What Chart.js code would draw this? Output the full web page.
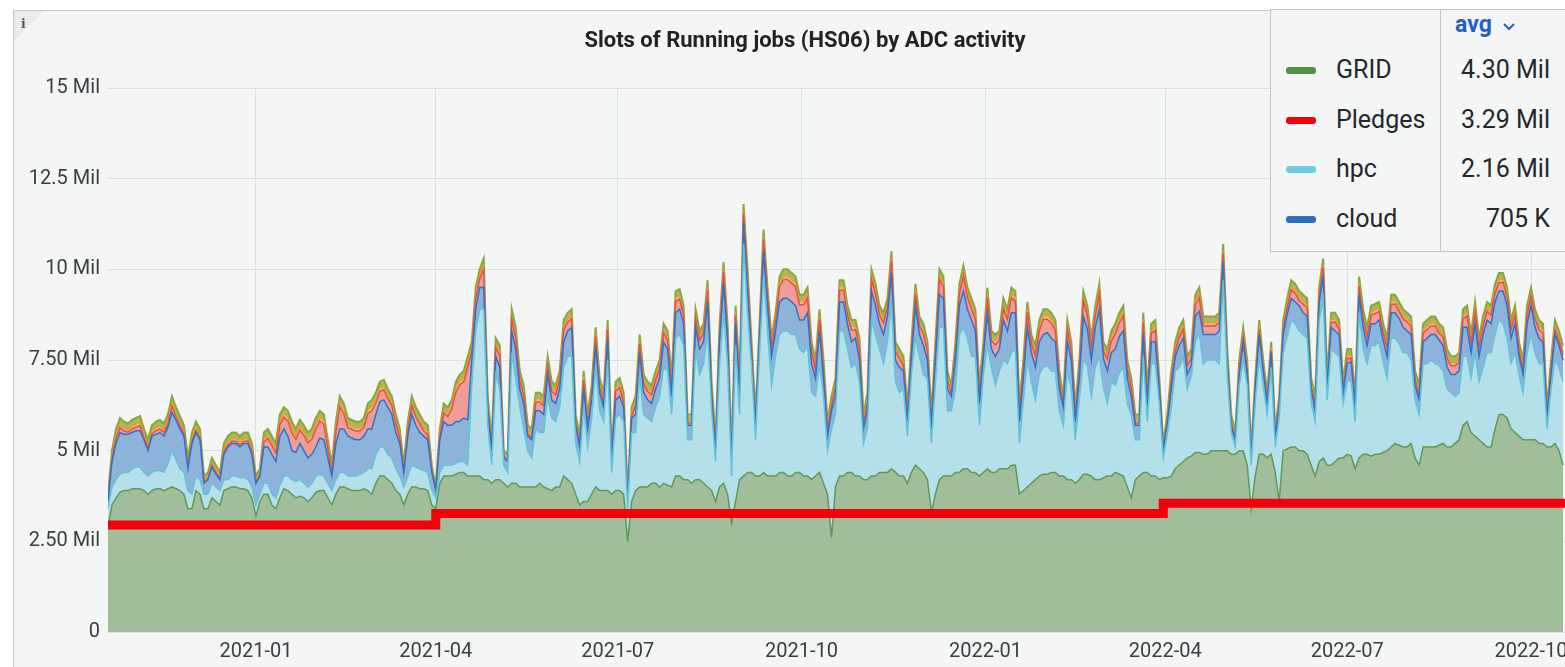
<!DOCTYPE html>
<html>
<head>
<meta charset="utf-8">
<script src="https://cdn.jsdelivr.net/npm/chart.js@4.4.0/dist/chart.umd.min.js"></script>
<style>
body { margin: 0; width: 1565px; height: 667px; overflow: hidden; background: #fff; font-family: Roboto, "Noto Sans", sans-serif; }
#panel { position: absolute; left: 13px; top: 10px; width: 1620px; height: 700px; background: #f4f5f5; border: 1px solid #c9c9c9; }
#corner { position: absolute; left: 14px; top: 11px; width: 0; height: 0; border-top: 30px solid #eaebeb; border-right: 30px solid transparent; }
#info { position: absolute; left: 21px; top: 17px; font-family: "DejaVu Serif", serif; font-weight: bold; font-size: 12px; color: #555; }
#chart { position: absolute; left: 0; top: 0; }
#title { position: absolute; left: 0; top: 27px; width: 1610px; text-align: center; font-weight: bold; font-size: 22px; color: #202226; }
#legend { position: absolute; left: 1270px; top: 9px; width: 320px; height: 241px; background: #f4f5f5; border: 1px solid #c4c4c4; }
#legend .div { position: absolute; left: 169px; top: 0; width: 1px; height: 241px; background: #c4c4c4; }
#legend .head { position: absolute; left: 184px; top: 1px; font-weight: bold; font-size: 23px; color: #1f60c4; }
#legend .row { position: absolute; left: 0; height: 30px; width: 320px; font-size: 25px; color: #24272b; }
#legend .sw { position: absolute; left: 15px; top: 12px; width: 30px; height: 7px; border-radius: 3px; }
#legend .nm { position: absolute; left: 65px; top: 0; }
#legend .val { position: absolute; left: 170px; width: 109px; top: 0; text-align: right; }
</style>
</head>
<body>
<div id="panel"></div>
<div id="corner"></div>
<div id="info">i</div>
<canvas id="chart" width="1620" height="667"></canvas>
<div id="title">Slots of Running jobs (HS06) by ADC activity</div>
<div id="legend"></div>
<script>
// days since 2020-10-19, one sample every 2 days
var sampleDays = [
0,2,4,6,8,10,12,14,16,18,
20,22,24,26,28,30,32,34,36,38,
40,42,44,46,48,50,52,54,56,58,
60,62,64,66,68,70,72,74,76,78,
80,82,84,86,88,90,92,94,96,98,
100,102,104,106,108,110,112,114,116,118,
120,122,124,126,128,130,132,134,136,138,
140,142,144,146,148,150,152,154,156,158,
160,162,164,166,168,170,172,174,176,178,
180,182,184,186,188,190,192,194,196,198,
200,202,204,206,208,210,212,214,216,218,
220,222,224,226,228,230,232,234,236,238,
240,242,244,246,248,250,252,254,256,258,
260,262,264,266,268,270,272,274,276,278,
280,282,284,286,288,290,292,294,296,298,
300,302,304,306,308,310,312,314,316,318,
320,322,324,326,328,330,332,334,336,338,
340,342,344,346,348,350,352,354,356,358,
360,362,364,366,368,370,372,374,376,378,
380,382,384,386,388,390,392,394,396,398,
400,402,404,406,408,410,412,414,416,418,
420,422,424,426,428,430,432,434,436,438,
440,442,444,446,448,450,452,454,456,458,
460,462,464,466,468,470,472,474,476,478,
480,482,484,486,488,490,492,494,496,498,
500,502,504,506,508,510,512,514,516,518,
520,522,524,526,528,530,532,534,536,538,
540,542,544,546,548,550,552,554,556,558,
560,562,564,566,568,570,572,574,576,578,
580,582,584,586,588,590,592,594,596,598,
600,602,604,606,608,610,612,614,616,618,
620,622,624,626,628,630,632,634,636,638,
640,642,644,646,648,650,652,654,656,658,
660,662,664,666,668,670,672,674,676,678,
680,682,684,686,688,690,692,694,696,698,
700,702,704,706,708,710,712,714,716,718,
720,722,724,726,728];

// values in Mil
var gridValues = [
2.9,3.5,3.7,3.85,3.9,3.9,3.95,3.95,3.95,3.9,
3.8,3.9,3.95,3.95,3.9,3.95,4.0,3.95,3.9,3.8,
3.4,3.4,3.9,3.8,3.4,3.4,3.7,3.6,3.5,3.9,
3.95,4.0,4.0,3.95,3.95,3.9,3.7,3.2,3.6,3.8,
3.8,3.5,3.4,3.7,3.95,3.9,3.8,3.7,3.75,3.7,
3.6,3.7,3.85,3.9,3.9,3.7,3.5,3.8,4.0,4.0,
3.95,3.9,3.9,3.9,3.95,3.9,3.8,4.1,4.3,4.3,
4.2,4.1,3.9,3.8,3.5,3.8,4.0,4.0,3.95,3.95,
3.9,3.5,3.4,4.1,4.3,4.3,4.3,4.35,4.4,4.4,
4.3,4.3,4.3,4.3,4.2,4.2,4.1,4.2,4.2,4.1,
4.0,4.1,4.1,4.0,4.0,4.0,4.0,4.0,4.1,4.0,
3.95,3.9,4.0,4.0,4.3,4.2,4.1,3.8,3.5,3.6,
3.6,3.8,4.0,3.9,3.9,3.9,3.8,3.9,3.9,3.8,
2.5,3.6,3.9,4.0,4.0,4.0,4.1,4.1,4.0,4.1,
4.05,4.0,4.3,4.3,4.2,4.2,4.1,4.2,4.2,4.1,
4.0,3.9,3.6,4.0,4.1,3.8,3.0,3.6,4.2,4.3,
4.4,4.4,4.3,4.3,4.4,4.3,4.3,4.3,4.4,4.4,
4.3,4.3,4.4,4.4,4.3,4.3,4.2,4.3,4.4,4.1,
3.8,2.6,4.0,4.3,4.3,4.4,4.4,4.3,4.3,4.2,
4.2,4.3,4.3,4.4,4.4,4.4,4.5,4.4,4.3,4.3,
4.1,4.4,4.6,4.5,4.4,4.2,3.3,3.8,4.2,4.3,
4.3,4.3,4.4,4.4,4.5,4.5,4.4,4.4,4.3,4.4,
4.5,4.4,4.4,4.5,4.5,4.5,4.6,4.6,3.8,3.9,
4.0,4.1,4.2,4.3,4.35,4.35,4.4,4.4,4.3,4.3,
4.2,4.2,4.1,4.2,4.35,4.35,4.3,4.2,4.2,4.25,
4.3,4.3,4.4,4.35,4.3,4.0,3.7,4.2,4.3,4.4,
4.4,4.3,4.3,4.2,4.25,4.25,4.3,4.5,4.6,4.7,
4.8,4.85,4.95,4.95,4.9,4.9,5.0,5.0,5.0,5.0,
5.0,4.9,4.9,5.0,5.0,4.6,3.4,4.3,4.9,4.9,
4.8,4.9,4.4,3.6,5.0,5.05,5.1,5.1,5.0,5.0,
4.9,4.6,4.3,4.7,4.8,4.6,4.6,4.7,4.8,4.8,
4.9,4.85,4.5,4.8,4.9,4.9,4.85,4.9,4.9,4.95,
5.0,5.1,5.2,5.15,5.1,5.1,5.2,4.8,4.6,5.1,
5.1,5.1,5.1,5.15,5.2,5.1,5.1,5.2,5.3,5.7,
5.8,5.5,5.4,5.3,5.2,5.1,5.1,5.6,6.0,6.0,
5.9,5.6,5.5,5.4,5.3,5.3,5.3,5.3,5.2,5.2,
5.1,5.1,5.2,5.0,4.6];

var hpcValues = [
0.5,0.5,0.5,0.5,0.5,0.5,0.55,0.6,0.6,0.5,
0.5,0.5,0.5,0.5,0.5,0.7,1.0,0.8,0.6,0.6,
0.5,0.4,0.4,0.4,0.4,0.4,0.4,0.4,0.4,0.3,
0.25,0.3,0.3,0.3,0.3,0.3,0.3,0.3,0.2,0.3,
0.3,0.3,0.3,0.35,0.35,0.4,0.4,0.45,0.45,0.4,
0.4,0.4,0.45,0.45,0.4,0.4,0.4,0.4,0.4,0.4,
0.35,0.4,0.4,0.45,0.45,0.6,0.7,0.8,0.8,0.8,
0.7,0.7,0.6,0.5,0.5,0.5,0.6,0.55,0.55,0.5,
0.5,0.4,0.3,0.3,0.3,0.3,0.3,0.3,0.3,0.3,
0.3,2.5,4.0,4.6,4.7,1.5,0.5,2.9,2.5,0.5,
0.4,3.6,2.9,2.2,1.6,1.0,0.8,1.6,1.4,1.5,
2.55,2.0,1.8,2.2,3.0,3.4,3.5,1.4,1.2,2.6,
1.5,2.1,3.3,2.2,1.9,3.6,0.6,2.0,2.1,2.0,
0.9,1.9,1.6,3.1,2.0,1.9,1.7,2.1,2.5,3.2,
3.15,2.0,3.8,3.9,3.7,1.1,1.2,3.6,2.9,3.3,
4.3,2.2,1.1,3.4,4.7,3.6,1.3,4.3,1.8,6.4,
4.4,2.9,1.0,3.4,5.4,4.0,2.5,3.3,3.8,3.9,
4.0,3.9,3.8,3.4,3.4,3.6,2.4,2.2,3.0,2.4,
1.2,3.0,2.0,4.0,4.0,3.4,2.9,3.1,2.6,1.0,
1.4,4.3,3.9,3.4,3.0,3.6,4.6,2.5,2.3,2.4,
1.3,2.7,3.5,3.1,2.7,2.8,1.9,3.1,4.2,4.1,
1.8,1.8,2.3,3.8,3.9,3.6,3.2,3.2,1.4,2.7,
3.4,2.9,2.4,2.7,3.0,2.9,3.1,3.2,1.4,2.5,
3.5,2.8,2.2,2.8,2.95,3.0,2.8,2.8,1.8,1.4,
3.0,2.5,1.2,2.2,3.15,3.0,2.2,3.1,3.4,2.5,
2.0,2.6,2.4,2.8,3.0,2.3,2.3,1.1,1.0,3.2,
1.4,3.1,3.1,2.1,0.55,1.2,1.9,2.7,2.7,2.9,
1.9,2.2,3.05,3.3,2.5,2.6,2.5,2.5,2.4,4.7,
2.1,0.6,0.2,1.8,2.5,2.2,1.2,2.0,2.7,1.9,
1.2,2.4,0.7,2.3,2.7,3.1,3.5,3.4,3.3,3.2,
3.2,1.7,1.5,3.9,4.4,1.8,3.2,3.0,2.8,1.5,
2.0,2.1,1.3,4.0,2.9,2.5,3.05,3.0,3.1,2.5,
2.0,3.0,2.9,2.8,2.6,2.6,2.3,1.6,1.4,2.3,
2.3,2.4,2.3,2.2,2.0,1.6,1.5,1.3,1.3,1.9,
1.8,1.5,2.3,1.6,2.1,2.6,2.6,2.6,2.6,2.5,
2.2,1.8,2.2,1.7,1.3,2.4,2.9,2.4,2.2,2.2,
0.5,1.6,2.3,2.3,2.3];

var cloudValues = [
0.2,0.7,1.0,1.15,1.05,1.05,1.0,1.0,1.0,0.9,
0.7,1.0,1.0,1.05,1.0,1.0,1.05,1.1,1.1,1.0,
0.6,1.4,1.2,1.1,0.3,0.4,0.45,0.35,0.3,0.7,
0.9,0.9,0.9,0.85,0.95,1.0,0.9,0.6,0.5,1.0,
1.0,1.1,1.0,1.35,1.3,1.1,0.8,0.8,1.0,0.9,
0.8,0.8,0.8,1.0,1.0,0.7,0.4,1.0,1.2,1.2,
1.1,1.05,1.0,0.95,1.0,1.1,1.1,1.1,1.25,1.3,
1.3,1.2,1.0,0.9,0.4,1.1,1.4,1.15,1.0,0.95,
0.9,0.5,0.2,0.9,1.2,1.1,1.1,1.15,1.1,1.2,
1.25,0.7,0.6,0.6,0.6,0.4,0.4,0.5,0.6,0.2,
0.3,0.6,0.8,0.5,0.7,0.4,0.5,0.5,0.6,0.5,
0.6,0.5,0.5,0.5,0.7,0.7,0.8,0.5,0.4,0.5,
0.5,0.5,0.6,0.5,0.4,0.6,0.3,0.5,0.5,0.4,
0.2,0.4,0.5,0.6,0.6,0.5,0.5,0.5,0.5,0.7,
0.6,0.5,0.7,0.7,0.6,0.4,0.4,0.6,0.7,0.6,
0.8,0.4,0.3,0.6,0.8,0.6,0.3,0.6,0.5,0.6,
0.6,0.3,0.4,0.4,0.7,0.7,0.8,0.7,0.9,0.9,
0.9,0.9,0.8,0.8,0.9,0.9,0.8,0.5,0.9,0.5,
0.4,0.5,0.5,0.8,0.8,0.7,0.7,0.7,0.6,0.4,
0.5,0.8,0.8,0.7,0.8,0.7,0.8,0.6,0.7,0.5,
0.4,0.5,0.9,0.6,0.8,0.5,0.4,0.6,0.9,0.8,
0.6,0.4,0.8,0.8,1.0,0.8,1.0,0.7,0.6,0.5,
0.9,0.5,0.8,0.6,1.1,0.9,1.1,1.0,0.6,0.6,
0.9,0.8,0.9,0.9,0.9,0.9,0.9,0.8,0.6,0.5,
0.8,0.8,0.5,0.6,1.2,1.0,1.0,1.1,1.3,0.8,
0.9,0.8,1.0,1.0,1.0,0.7,0.5,0.4,0.4,0.6,
0.4,0.6,0.6,0.4,0.2,0.3,0.5,0.4,0.6,0.5,
0.4,0.3,0.7,0.6,0.8,0.7,0.7,0.7,0.9,0.5,
0.3,0.2,0.2,0.3,0.5,0.3,0.2,0.4,0.6,0.4,
0.3,0.4,0.3,0.3,0.5,0.6,0.6,0.6,0.7,0.6,
0.6,0.4,0.3,0.5,0.6,0.3,0.6,0.6,0.6,0.3,
0.5,0.5,0.4,0.5,0.6,0.5,0.6,0.6,0.6,0.6,
0.6,0.7,0.7,0.7,0.7,0.6,0.7,0.4,0.4,0.6,
0.7,0.7,0.8,0.7,0.7,0.6,0.5,0.6,0.6,0.8,
0.8,0.7,0.8,0.7,0.9,0.9,0.8,0.9,0.8,0.9,
0.9,0.7,0.8,0.5,0.5,0.8,0.8,0.7,0.7,0.6,
0.3,0.4,0.7,0.6,0.6];

var analysisValues = [
0.03,0.06,0.14,0.14,0.1,0.06,0.1,0.1,0.14,0.06,
0.06,0.06,0.1,0.1,0.1,0.1,0.18,0.1,0.1,0.06,
0.06,0.06,0.06,0.06,0.03,0.03,0.05,0.05,0.03,0.06,
0.06,0.06,0.06,0.06,0.06,0.06,0.06,0.03,0.03,0.14,
0.24,0.24,0.24,0.32,0.32,0.42,0.5,0.37,0.37,0.42,
0.42,0.42,0.5,0.47,0.42,0.24,0.08,0.32,0.6,0.42,
0.24,0.24,0.24,0.24,0.24,0.42,0.5,0.32,0.28,0.28,
0.24,0.24,0.24,0.14,0.03,0.14,0.24,0.24,0.24,0.14,
0.14,0.03,0.02,0.06,0.24,0.24,0.44,0.8,1.02,1.0,
1.45,0.24,0.3,0.24,0.5,0.14,0.06,0.24,0.32,0.03,
0.03,0.32,0.32,0.24,0.24,0.06,0.06,0.24,0.24,0.24,
0.24,0.24,0.24,0.24,0.32,0.24,0.24,0.06,0.06,0.24,
0.14,0.14,0.24,0.14,0.14,0.24,0.03,0.24,0.24,0.14,
0.03,0.06,0.24,0.24,0.24,0.24,0.24,0.24,0.24,0.24,
0.24,0.24,0.32,0.28,0.24,0.06,0.06,0.24,0.24,0.24,
0.32,0.14,0.06,0.24,0.32,0.24,0.06,0.24,0.24,0.24,
0.32,0.14,0.06,0.14,0.32,0.24,0.24,0.24,0.42,0.52,
0.52,0.52,0.52,0.42,0.42,0.42,0.32,0.24,0.32,0.24,
0.14,0.14,0.24,0.32,0.32,0.24,0.32,0.24,0.32,0.14,
0.24,0.32,0.32,0.24,0.32,0.24,0.32,0.24,0.24,0.14,
0.14,0.14,0.32,0.24,0.32,0.24,0.14,0.24,0.42,0.32,
0.24,0.06,0.24,0.32,0.42,0.32,0.32,0.32,0.24,0.14,
0.42,0.24,0.32,0.24,0.32,0.32,0.42,0.32,0.24,0.24,
0.42,0.24,0.32,0.32,0.42,0.37,0.42,0.32,0.24,0.06,
0.32,0.24,0.14,0.24,0.42,0.37,0.32,0.32,0.42,0.19,
0.32,0.32,0.42,0.37,0.42,0.24,0.24,0.06,0.06,0.32,
0.24,0.24,0.32,0.06,0.03,0.05,0.24,0.14,0.24,0.24,
0.24,0.19,0.32,0.37,0.24,0.24,0.24,0.24,0.24,0.24,
0.14,0.06,0.03,0.14,0.14,0.14,0.03,0.06,0.14,0.06,
0.06,0.06,0.03,0.06,0.14,0.19,0.24,0.24,0.14,0.24,
0.24,0.06,0.14,0.14,0.24,0.06,0.14,0.24,0.14,0.06,
0.14,0.1,0.06,0.24,0.24,0.24,0.24,0.28,0.24,0.19,
0.24,0.24,0.24,0.19,0.24,0.24,0.24,0.14,0.14,0.24,
0.24,0.24,0.24,0.19,0.24,0.24,0.24,0.24,0.24,0.24,
0.32,0.24,0.32,0.24,0.24,0.24,0.24,0.24,0.24,0.24,
0.24,0.24,0.24,0.14,0.14,0.24,0.24,0.24,0.24,0.24,
0.06,0.14,0.14,0.14,0.14];

var userValues = [
0.05,0.07,0.08,0.08,0.08,0.07,0.08,0.08,0.08,0.07,
0.07,0.07,0.08,0.08,0.08,0.08,0.09,0.08,0.08,0.07,
0.07,0.07,0.07,0.07,0.05,0.05,0.06,0.06,0.05,0.07,
0.07,0.07,0.07,0.07,0.07,0.07,0.07,0.05,0.05,0.08,
0.08,0.08,0.08,0.1,0.1,0.1,0.12,0.1,0.1,0.1,
0.1,0.1,0.12,0.1,0.1,0.08,0.07,0.1,0.12,0.1,
0.08,0.08,0.08,0.08,0.08,0.1,0.12,0.1,0.09,0.09,
0.08,0.08,0.08,0.08,0.05,0.08,0.08,0.08,0.08,0.08,
0.08,0.05,0.03,0.07,0.08,0.08,0.08,0.12,0.1,0.12,
0.12,0.08,0.1,0.08,0.1,0.08,0.07,0.08,0.1,0.05,
0.05,0.1,0.1,0.08,0.08,0.07,0.07,0.08,0.08,0.08,
0.08,0.08,0.08,0.08,0.1,0.08,0.08,0.07,0.07,0.08,
0.08,0.08,0.08,0.08,0.08,0.08,0.05,0.08,0.08,0.08,
0.05,0.07,0.08,0.08,0.08,0.08,0.08,0.08,0.08,0.08,
0.08,0.08,0.1,0.09,0.08,0.07,0.07,0.08,0.08,0.08,
0.1,0.08,0.07,0.08,0.1,0.08,0.07,0.08,0.08,0.08,
0.1,0.08,0.07,0.08,0.1,0.08,0.08,0.08,0.1,0.1,
0.1,0.1,0.1,0.1,0.1,0.1,0.1,0.08,0.1,0.08,
0.08,0.08,0.08,0.1,0.1,0.08,0.1,0.08,0.1,0.08,
0.08,0.1,0.1,0.08,0.1,0.08,0.1,0.08,0.08,0.08,
0.08,0.08,0.1,0.08,0.1,0.08,0.08,0.08,0.1,0.1,
0.08,0.07,0.08,0.1,0.1,0.1,0.1,0.1,0.08,0.08,
0.1,0.08,0.1,0.08,0.1,0.1,0.1,0.1,0.08,0.08,
0.1,0.08,0.1,0.1,0.1,0.1,0.1,0.1,0.08,0.07,
0.1,0.08,0.08,0.08,0.1,0.1,0.1,0.1,0.1,0.08,
0.1,0.1,0.1,0.1,0.1,0.08,0.08,0.07,0.07,0.1,
0.08,0.08,0.1,0.07,0.05,0.06,0.08,0.08,0.08,0.08,
0.08,0.08,0.1,0.1,0.08,0.08,0.08,0.08,0.08,0.08,
0.08,0.07,0.05,0.08,0.08,0.08,0.05,0.07,0.08,0.07,
0.07,0.07,0.05,0.07,0.08,0.08,0.08,0.08,0.08,0.08,
0.08,0.07,0.08,0.08,0.08,0.07,0.08,0.08,0.08,0.07,
0.08,0.08,0.07,0.08,0.08,0.08,0.08,0.09,0.08,0.08,
0.08,0.08,0.08,0.08,0.08,0.08,0.08,0.08,0.08,0.08,
0.08,0.08,0.08,0.08,0.08,0.08,0.08,0.08,0.08,0.08,
0.1,0.08,0.1,0.08,0.08,0.08,0.08,0.08,0.08,0.08,
0.08,0.08,0.08,0.08,0.08,0.08,0.08,0.08,0.08,0.08,
0.07,0.08,0.08,0.08,0.08];

var prodValues = [
0.12,0.17,0.18,0.18,0.17,0.17,0.17,0.17,0.18,0.17,
0.17,0.17,0.17,0.17,0.17,0.17,0.18,0.17,0.17,0.17,
0.17,0.17,0.17,0.17,0.12,0.12,0.14,0.14,0.12,0.17,
0.17,0.17,0.17,0.17,0.17,0.17,0.17,0.12,0.12,0.18,
0.18,0.18,0.18,0.18,0.18,0.18,0.18,0.18,0.18,0.18,
0.18,0.18,0.18,0.18,0.18,0.18,0.15,0.18,0.18,0.18,
0.18,0.18,0.18,0.18,0.18,0.18,0.18,0.18,0.18,0.18,
0.18,0.18,0.18,0.18,0.12,0.18,0.18,0.18,0.18,0.18,
0.18,0.12,0.05,0.17,0.18,0.18,0.18,0.18,0.18,0.18,
0.18,0.18,0.2,0.18,0.2,0.18,0.17,0.18,0.18,0.12,
0.12,0.18,0.18,0.18,0.18,0.18,0.17,0.18,0.18,0.18,
0.18,0.18,0.18,0.18,0.18,0.18,0.18,0.17,0.17,0.18,
0.18,0.18,0.18,0.18,0.18,0.18,0.12,0.18,0.18,0.18,
0.12,0.17,0.18,0.18,0.18,0.18,0.18,0.18,0.18,0.18,
0.18,0.18,0.18,0.18,0.18,0.17,0.17,0.18,0.18,0.18,
0.18,0.18,0.17,0.18,0.18,0.18,0.17,0.18,0.18,0.18,
0.18,0.18,0.17,0.18,0.18,0.18,0.18,0.18,0.18,0.18,
0.18,0.18,0.18,0.18,0.18,0.18,0.18,0.18,0.18,0.18,
0.18,0.18,0.18,0.18,0.18,0.18,0.18,0.18,0.18,0.18,
0.18,0.18,0.18,0.18,0.18,0.18,0.18,0.18,0.18,0.18,
0.18,0.18,0.18,0.18,0.18,0.18,0.18,0.18,0.18,0.18,
0.18,0.17,0.18,0.18,0.18,0.18,0.18,0.18,0.18,0.18,
0.18,0.18,0.18,0.18,0.18,0.18,0.18,0.18,0.18,0.18,
0.18,0.18,0.18,0.18,0.18,0.18,0.18,0.18,0.18,0.17,
0.18,0.18,0.18,0.18,0.18,0.18,0.18,0.18,0.18,0.18,
0.18,0.18,0.18,0.18,0.18,0.18,0.18,0.17,0.17,0.18,
0.18,0.18,0.18,0.17,0.12,0.14,0.18,0.18,0.18,0.18,
0.18,0.18,0.18,0.18,0.18,0.18,0.18,0.18,0.18,0.18,
0.18,0.17,0.12,0.18,0.18,0.18,0.12,0.17,0.18,0.17,
0.17,0.17,0.12,0.17,0.18,0.18,0.18,0.18,0.18,0.18,
0.18,0.17,0.18,0.18,0.18,0.17,0.18,0.18,0.18,0.17,
0.18,0.17,0.17,0.18,0.18,0.18,0.18,0.18,0.18,0.18,
0.18,0.18,0.18,0.18,0.18,0.18,0.18,0.18,0.18,0.18,
0.18,0.18,0.18,0.18,0.18,0.18,0.18,0.18,0.18,0.18,
0.18,0.18,0.18,0.18,0.18,0.18,0.18,0.18,0.18,0.18,
0.18,0.18,0.18,0.18,0.18,0.18,0.18,0.18,0.18,0.18,
0.17,0.18,0.18,0.18,0.18];

var pledgeDays = [0, 164, 528, 729];
var pledgeValues = [2.95, 3.27, 3.55, 3.55];

var xTickDays = [74, 164, 255, 347, 439, 529, 620, 712];
var xTickLabels = ['2021-01', '2021-04', '2021-07', '2021-10', '2022-01', '2022-04', '2022-07', '2022-10'];
var yTickValues = [0, 2.5, 5, 7.5, 10, 12.5, 15];
var yTickLabels = ['0', '2.50 Mil', '5 Mil', '7.50 Mil', '10 Mil', '12.5 Mil', '15 Mil'];

var legendNames = ['GRID', 'Pledges', 'hpc', 'cloud'];
var legendAvg = ['4.30 Mil', '3.29 Mil', '2.16 Mil', '705 K'];
var legendColors = ['#56904c', '#f2000b', '#6ccde0', '#2c6fc0'];

function toPoints(values) {
    return values.map(function (v, i) { return {x: sampleDays[i], y: v}; });
}

function layer(label, values, line, fill, width) {
    return {
        label: label,
        data: toPoints(values),
        stack: 'adc',
        borderColor: line,
        backgroundColor: fill,
        borderWidth: width,
        pointRadius: 0,
        tension: 0,
        fill: label == 'GRID' ? 'origin' : '-1'
    };
}

var pledgePoints = pledgeDays.map(function (d, i) { return {x: d, y: pledgeValues[i]}; });

var datasets = [
    layer('GRID', gridValues, '#5f9a55', '#a2bd9a', 1.5),
    layer('hpc', hpcValues, '#62c3d8', '#b3e0e9', 1.5),
    layer('cloud', cloudValues, '#2f73c6', '#8eb3db', 1.5),
    layer('analysis', analysisValues, '#e0524f', '#ee9d98', 1.5),
    layer('user', userValues, '#f39a2b', '#f5bd72', 1.2),
    layer('production', prodValues, '#8ca53d', '#a9b85a', 2),
    {
        label: 'Pledges',
        data: pledgePoints,
        stack: 'pledge',
        borderColor: '#f2000b',
        borderWidth: 9,
        pointRadius: 0,
        stepped: true,
        fill: false,
        order: -1
    }
];

var tickFont = {family: 'Roboto', size: 20};

new Chart(document.getElementById('chart'), {
    type: 'line',
    data: {datasets: datasets},
    options: {
        responsive: false,
        animation: false,
        layout: {padding: {left: 8, right: 55, top: 88, bottom: 0}},
        plugins: {legend: {display: false}, tooltip: {enabled: false}},
        scales: {
            x: {
                type: 'linear',
                min: 0,
                max: 729,
                afterBuildTicks: function (axis) {
                    axis.ticks = xTickDays.map(function (d) { return {value: d}; });
                },
                afterFit: function (axis) { axis.height = 35; },
                ticks: {
                    autoSkip: false,
                    maxRotation: 0,
                    padding: 8,
                    color: '#3a3e44',
                    font: tickFont,
                    callback: function (value, index) { return xTickLabels[index]; }
                },
                grid: {color: '#dcdfdf', drawTicks: false},
                border: {display: false}
            },
            y: {
                stacked: true,
                min: 0,
                max: 15,
                afterBuildTicks: function (axis) {
                    axis.ticks = yTickValues.map(function (v) { return {value: v}; });
                },
                afterFit: function (axis) { axis.width = 100; },
                ticks: {
                    padding: 8,
                    color: '#3a3e44',
                    font: tickFont,
                    callback: function (value, index) { return yTickLabels[index]; }
                },
                grid: {color: '#dcdfdf', drawTicks: false},
                border: {display: false}
            }
        }
    }
});

var legend = document.getElementById('legend');
var html = '<div class="div"></div><div class="head">avg <svg width="14" height="10" viewBox="0 0 14 10" style="margin-left:4px"><polyline points="2,2 7,7 12,2" fill="none" stroke="#1f60c4" stroke-width="2"/></svg></div>';
legendNames.forEach(function (name, i) {
    var top = 45 + i * 49.5;
    html += '<div class="row" style="top:' + top + 'px"><div class="sw" style="background:' + legendColors[i] + '"></div>' +
        '<div class="nm">' + name + '</div><div class="val">' + legendAvg[i] + '</div></div>';
});
legend.innerHTML = html;
</script>
</body>
</html>
